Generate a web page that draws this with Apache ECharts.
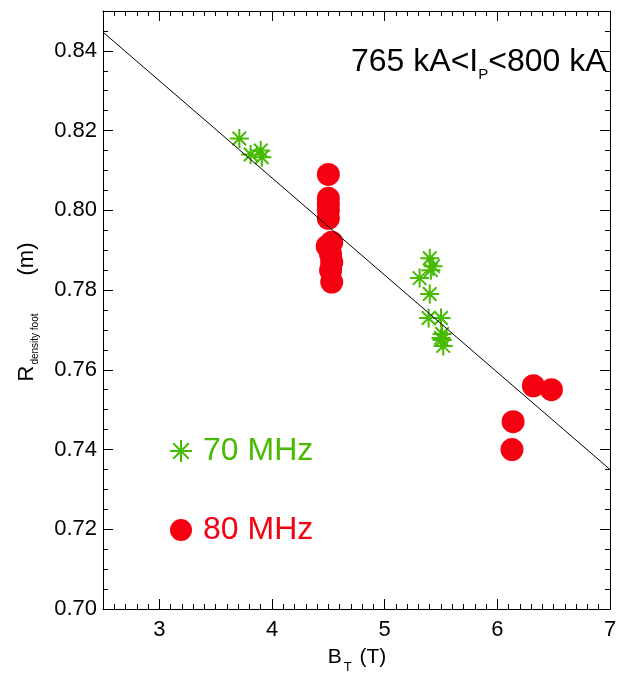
<!DOCTYPE html>
<html>
<head>
<meta charset="utf-8">
<script src="https://cdn.jsdelivr.net/npm/echarts@6/dist/echarts.min.js"></script>
<style>html,body{margin:0;padding:0;background:#fff;}#c{width:618px;height:675px;}</style>
</head>
<body>
<div id="c"></div>
<script>
// ---- data ----
const green70x = [3.71, 3.81, 3.90, 3.91, 5.31, 5.40, 5.41, 5.43, 5.40, 5.39, 5.50, 5.51, 5.51, 5.52, 5.50];
const green70y = [0.818, 0.814, 0.815, 0.8133, 0.783, 0.788, 0.785, 0.786, 0.779, 0.773, 0.773, 0.769, 0.7675, 0.766, 0.768];
const red80x = [4.50, 4.50, 4.50, 4.50, 4.50, 4.49, 4.53, 4.52, 4.53, 4.52, 4.53, 6.32, 6.48, 6.14, 6.13];
const red80y = [0.809, 0.803, 0.8015, 0.800, 0.798, 0.791, 0.792, 0.789, 0.787, 0.785, 0.782, 0.756, 0.755, 0.747, 0.740];
const fitX = [2.5, 7.0];
const fitY = [0.8447, 0.735];
const xTickLabels = [3, 4, 5, 6, 7];
const yTickLabels = [0.70, 0.72, 0.74, 0.76, 0.78, 0.80, 0.82, 0.84];
const seriesNames = ['70 MHz', '80 MHz'];

const GREEN = '#46bb00';
const RED = '#f50010';
const FONT = "'Liberation Sans', Arial, sans-serif";
const STAR = 'path://M10,0L10,20M0,10L20,10M2.9,2.9L17.1,17.1M2.9,17.1L17.1,2.9';

const zip = (a, b) => a.map((v, i) => [v, b[i]]);

const xMin = 2.5, xMax = 7, yMin = 0.70, yMax = 0.85;
const minorX = [];
for (let v = 26; v <= 69; v++) minorX.push(v / 10);

function xAxisDef(pos, labels, major) {
  return {
    type: 'value', position: pos, min: xMin, max: xMax, interval: major ? 0.5 : 0.1,
    axisLine: { show: major, onZero: false, lineStyle: { color: '#000', width: 1 } },
    axisTick: major ? { show: true, inside: true, length: 10, customValues: xTickLabels, lineStyle: { color: '#000', width: 1 } }
                    : { show: true, inside: true, length: 5, customValues: minorX, lineStyle: { color: '#000', width: 1 } },
    axisLabel: labels ? { show: true, customValues: xTickLabels, margin: 10, color: '#000', fontSize: 22, fontFamily: FONT, formatter: v => String(Math.round(v)) } : { show: false },
    splitLine: { show: false }, minorTick: { show: false }
  };
}
function yAxisDef(pos, labels) {
  return {
    type: 'value', position: pos, min: yMin, max: yMax, interval: 0.02,
    axisLine: { show: true, onZero: false, lineStyle: { color: '#000', width: 1 } },
    axisTick: { show: true, inside: true, length: 10, customValues: yTickLabels, lineStyle: { color: '#000', width: 1 } },
    minorTick: { show: true, splitNumber: 4, length: 5, lineStyle: { color: '#000', width: 1 } },
    axisLabel: labels ? { show: true, customValues: yTickLabels, margin: 6, color: '#000', fontSize: 22, fontFamily: FONT, formatter: v => v.toFixed(2) } : { show: false },
    splitLine: { show: false }, minorSplitLine: { show: false }
  };
}

const chart = echarts.init(document.getElementById('c'), null, { renderer: 'canvas' });
chart.setOption({
  animation: false,
  backgroundColor: '#fff',
  grid: { left: 103, right: 8, top: 11, bottom: 66, outerBoundsMode: 'none' },
  xAxis: [xAxisDef('bottom', true, true), xAxisDef('bottom', false, false), xAxisDef('top', false, true), xAxisDef('top', false, false)],
  yAxis: [yAxisDef('left', true), yAxisDef('right', false)],
  legend: {
    orient: 'vertical', left: 164, top: 429, itemWidth: 34, itemHeight: 22, itemGap: 45,
    textStyle: { fontSize: 32, fontFamily: FONT, lineHeight: 34 },
    data: [
      { name: seriesNames[0], icon: STAR, itemStyle: { color: GREEN, borderColor: GREEN, borderWidth: 2 }, textStyle: { color: GREEN } },
      { name: seriesNames[1], icon: 'circle', itemStyle: { color: RED, borderWidth: 0 }, textStyle: { color: RED } }
    ]
  },
  graphic: [
    { type: 'text', x: 351, y: 62, style: { text: '{a|765 kA<I}{s|P}{a|<800 kA}', align: 'left', verticalAlign: 'middle',
      rich: { a: { fontSize: 32, fontFamily: FONT, fill: '#000' }, s: { fontSize: 15, fontFamily: FONT, fill: '#000', verticalAlign: 'bottom', padding: [26, 0, 0, 0] } } } },
    { type: 'text', x: 357, y: 657, style: { text: '{a|B}{s|T}{a| (T)}', align: 'center', verticalAlign: 'middle',
      rich: { a: { fontSize: 21, fontFamily: FONT, fill: '#000' }, s: { fontSize: 13, fontFamily: FONT, fill: '#000', verticalAlign: 'bottom', padding: [20, 2, 0, 2] } } } },
    { type: 'text', x: 27, y: 312, rotation: Math.PI / 2, style: { text: '{a|R}{s|density foot}{m|(m)}', align: 'center', verticalAlign: 'middle',
      rich: { a: { fontSize: 22, fontFamily: FONT, fill: '#000' }, s: { fontSize: 10, fontFamily: FONT, fill: '#000', verticalAlign: 'bottom', padding: [17, 0, 0, 1] },
              m: { fontSize: 22, fontFamily: FONT, fill: '#000', padding: [0, 0, 0, 38] } } } }
  ],
  series: [
    { name: seriesNames[0], type: 'scatter', symbol: STAR, symbolSize: 19, data: zip(green70x, green70y),
      itemStyle: { color: GREEN, borderColor: GREEN, borderWidth: 2, opacity: 1 }, z: 3 },
    { name: seriesNames[1], type: 'scatter', symbol: 'circle', symbolSize: 23, data: zip(red80x, red80y),
      itemStyle: { color: RED, opacity: 1 }, z: 2 },
    { name: 'fit', type: 'line', data: zip(fitX, fitY), symbol: 'none', silent: true,
      lineStyle: { color: '#000', width: 1 }, z: 5 }
  ]
});
</script>
</body>
</html>
